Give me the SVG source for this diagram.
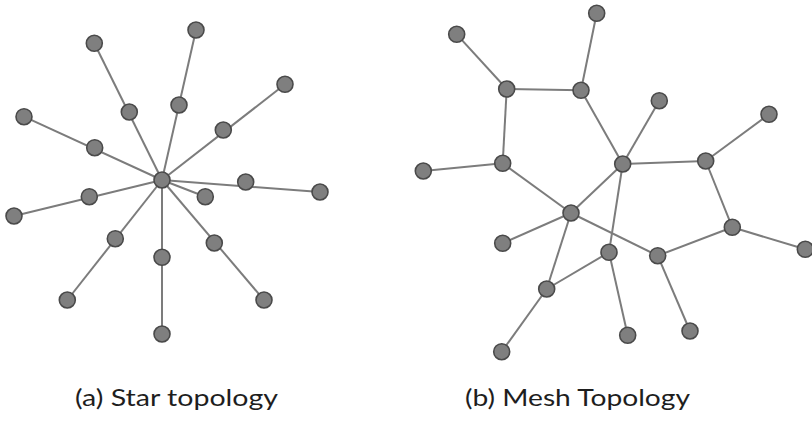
<svg xmlns="http://www.w3.org/2000/svg" width="812" height="422" viewBox="0 0 812 422">
  <style>
    .edge { stroke: #7c7c7c; stroke-width: 2; fill: none; }
    .node { fill: #7f7f7f; stroke: #4a4a4a; stroke-width: 1.6; }
    .label { font-family: Lato, "Open Sans", "Liberation Sans", sans-serif; font-size: 24px; fill: #1e1e1e; }
  </style>
  <rect width="812" height="422" fill="#ffffff"/>

  <!-- Star topology: links -->
  <g id="star-edges">
    <line class="edge" x1="162" y1="180" x2="94.3" y2="43.3"/>
    <line class="edge" x1="162" y1="180" x2="196" y2="30"/>
    <line class="edge" x1="162" y1="180" x2="285" y2="84.3"/>
    <line class="edge" x1="162" y1="180" x2="24" y2="116.7"/>
    <line class="edge" x1="162" y1="180" x2="320" y2="192"/>
    <line class="edge" x1="162" y1="180" x2="205.3" y2="196.7"/>
    <line class="edge" x1="162" y1="180" x2="14" y2="216"/>
    <line class="edge" x1="162" y1="180" x2="67.3" y2="300"/>
    <line class="edge" x1="162" y1="180" x2="162" y2="334"/>
    <line class="edge" x1="162" y1="180" x2="264" y2="300"/>
  </g>

  <!-- Star topology: stations -->
  <g id="star-hub"><circle class="node" cx="162" cy="180" r="8"/></g>
  <g id="s1"><circle class="node" cx="129.3" cy="112" r="8"/></g>
  <g id="s2"><circle class="node" cx="94.3" cy="43.3" r="8"/></g>
  <g id="s3"><circle class="node" cx="179" cy="105" r="8"/></g>
  <g id="s4"><circle class="node" cx="196" cy="30" r="8"/></g>
  <g id="s5"><circle class="node" cx="223.3" cy="130" r="8"/></g>
  <g id="s6"><circle class="node" cx="285" cy="84.3" r="8"/></g>
  <g id="s7"><circle class="node" cx="94.7" cy="147.7" r="8"/></g>
  <g id="s8"><circle class="node" cx="24" cy="116.7" r="8"/></g>
  <g id="s9"><circle class="node" cx="245.7" cy="182" r="8"/></g>
  <g id="s10"><circle class="node" cx="320" cy="192" r="8"/></g>
  <g id="s11"><circle class="node" cx="205.3" cy="196.7" r="8"/></g>
  <g id="s12"><circle class="node" cx="89.3" cy="196.7" r="8"/></g>
  <g id="s13"><circle class="node" cx="14" cy="216" r="8"/></g>
  <g id="s14"><circle class="node" cx="115.3" cy="238.7" r="8"/></g>
  <g id="s15"><circle class="node" cx="67.3" cy="300" r="8"/></g>
  <g id="s16"><circle class="node" cx="162" cy="257.3" r="8"/></g>
  <g id="s17"><circle class="node" cx="162" cy="334" r="8"/></g>
  <g id="s18"><circle class="node" cx="214.3" cy="243" r="8"/></g>
  <g id="s19"><circle class="node" cx="264" cy="300" r="8"/></g>

  <!-- Mesh topology: links -->
  <g id="mesh-edges">
    <line class="edge" x1="456.7" y1="34.3" x2="506.7" y2="89"/>
    <line class="edge" x1="506.7" y1="89" x2="581" y2="90.3"/>
    <line class="edge" x1="581" y1="90.3" x2="596.7" y2="13.3"/>
    <line class="edge" x1="506.7" y1="89" x2="502.7" y2="163.3"/>
    <line class="edge" x1="502.7" y1="163.3" x2="423.3" y2="171"/>
    <line class="edge" x1="502.7" y1="163.3" x2="571" y2="213"/>
    <line class="edge" x1="581" y1="90.3" x2="622.7" y2="164"/>
    <line class="edge" x1="622.7" y1="164" x2="659.3" y2="100.7"/>
    <line class="edge" x1="622.7" y1="164" x2="705.7" y2="161"/>
    <line class="edge" x1="705.7" y1="161" x2="769" y2="114.3"/>
    <line class="edge" x1="705.7" y1="161" x2="732.3" y2="227.3"/>
    <line class="edge" x1="732.3" y1="227.3" x2="805.3" y2="249.3"/>
    <line class="edge" x1="732.3" y1="227.3" x2="657.7" y2="255.7"/>
    <line class="edge" x1="571" y1="213" x2="622.7" y2="164"/>
    <line class="edge" x1="571" y1="213" x2="502.7" y2="243.3"/>
    <line class="edge" x1="571" y1="213" x2="657.7" y2="255.7"/>
    <line class="edge" x1="571" y1="213" x2="546.7" y2="289"/>
    <line class="edge" x1="622.7" y1="164" x2="609" y2="252.3"/>
    <line class="edge" x1="609" y1="252.3" x2="546.7" y2="289"/>
    <line class="edge" x1="609" y1="252.3" x2="627.7" y2="335.3"/>
    <line class="edge" x1="657.7" y1="255.7" x2="690" y2="331"/>
    <line class="edge" x1="546.7" y1="289" x2="501.7" y2="351.7"/>
  </g>

  <!-- Mesh topology: stations -->
  <g id="m1"><circle class="node" cx="456.7" cy="34.3" r="8"/></g>
  <g id="m2"><circle class="node" cx="506.7" cy="89" r="8"/></g>
  <g id="m3"><circle class="node" cx="581" cy="90.3" r="8"/></g>
  <g id="m4"><circle class="node" cx="596.7" cy="13.3" r="8"/></g>
  <g id="m5"><circle class="node" cx="659.3" cy="100.7" r="8"/></g>
  <g id="m6"><circle class="node" cx="769" cy="114.3" r="8"/></g>
  <g id="m7"><circle class="node" cx="622.7" cy="164" r="8"/></g>
  <g id="m8"><circle class="node" cx="705.7" cy="161" r="8"/></g>
  <g id="m9"><circle class="node" cx="502.7" cy="163.3" r="8"/></g>
  <g id="m10"><circle class="node" cx="423.3" cy="171" r="8"/></g>
  <g id="m11"><circle class="node" cx="571" cy="213" r="8"/></g>
  <g id="m12"><circle class="node" cx="732.3" cy="227.3" r="8"/></g>
  <g id="m13"><circle class="node" cx="805.3" cy="249.3" r="8"/></g>
  <g id="m14"><circle class="node" cx="502.7" cy="243.3" r="8"/></g>
  <g id="m15"><circle class="node" cx="609" cy="252.3" r="8"/></g>
  <g id="m16"><circle class="node" cx="657.7" cy="255.7" r="8"/></g>
  <g id="m17"><circle class="node" cx="546.7" cy="289" r="8"/></g>
  <g id="m18"><circle class="node" cx="627.7" cy="335.3" r="8"/></g>
  <g id="m19"><circle class="node" cx="690" cy="331" r="8"/></g>
  <g id="m20"><circle class="node" cx="501.7" cy="351.7" r="8"/></g>

  <!-- Captions -->
  <text class="label" x="75" y="406" textLength="203" lengthAdjust="spacingAndGlyphs">(a) Star topology</text>
  <text class="label" x="465" y="406" textLength="225" lengthAdjust="spacingAndGlyphs">(b) Mesh Topology</text>
</svg>
